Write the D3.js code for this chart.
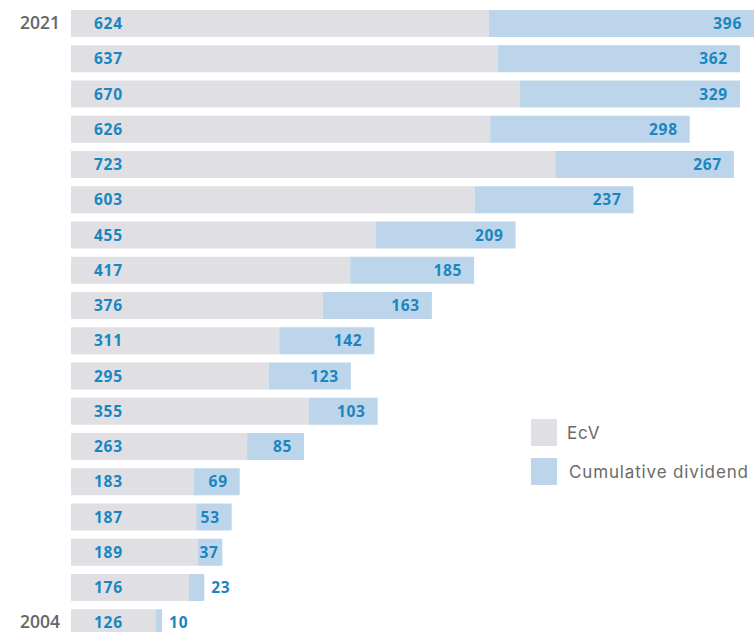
<!DOCTYPE html>
<html>
<head>
<meta charset="utf-8">
<script src="https://cdn.jsdelivr.net/npm/d3@7"></script>
<style>
  html, body { margin: 0; padding: 0; background: #fff; }
  svg { display: block; }
</style>
</head>
<body>
<svg id="chart" width="754" height="632"></svg>
<script>
// ---- data ----
const years = [2021, 2020, 2019, 2018, 2017, 2016, 2015, 2014, 2013, 2012, 2011, 2010, 2009, 2008, 2007, 2006, 2005, 2004];
const ecv = [624, 637, 670, 626, 723, 603, 455, 417, 376, 311, 295, 355, 263, 183, 187, 189, 176, 126];
const dividend = [396, 362, 329, 298, 267, 237, 209, 185, 163, 142, 123, 103, 85, 69, 53, 37, 23, 10];
const yearLabels = [2021, 2004];
const seriesNames = ["EcV", "Cumulative dividend"];

// ---- style ----
const grey = "#e0dfe3";
const blue = "#bdd5ea";
const numColor = "#1a86c0";
const numFont = "'Open Sans', sans-serif";

const svg = d3.select("#chart");
const x = d3.scaleLinear().domain([0, 1020]).range([71, 754]);
const y = d3.scaleBand().domain(years).range([10, 10 + 18 * 35.25]).padding(0);
const barH = 27;

const rows = years.map((yr, i) => ({ year: yr, ecv: ecv[i], div: dividend[i] }));

const g = svg.append("g");

// EcV bars
g.selectAll("rect.ecv").data(rows).join("rect")
  .attr("class", "ecv")
  .attr("x", x(0))
  .attr("y", d => y(d.year))
  .attr("width", d => x(d.ecv) - x(0))
  .attr("height", barH)
  .attr("fill", grey);

// dividend bars
g.selectAll("rect.div").data(rows).join("rect")
  .attr("class", "div")
  .attr("x", d => x(d.ecv))
  .attr("y", d => y(d.year))
  .attr("width", d => x(d.ecv + d.div) - x(d.ecv))
  .attr("height", barH)
  .attr("fill", blue);

// EcV labels
g.selectAll("text.ecvl").data(rows).join("text")
  .attr("class", "ecvl")
  .attr("x", x(0) + 23)
  .attr("y", d => y(d.year) + barH / 2)
  .attr("dy", "0.36em")
  .attr("fill", numColor)
  .attr("font-family", numFont)
  .attr("font-weight", 700)
  .attr("font-size", 15.5)
  .attr("letter-spacing", 0.7)
  .text(d => d.ecv);

// dividend labels
g.selectAll("text.divl").data(rows).join("text")
  .attr("class", "divl")
  .attr("y", d => y(d.year) + barH / 2)
  .attr("dy", "0.36em")
  .attr("fill", numColor)
  .attr("font-family", numFont)
  .attr("font-weight", 700)
  .attr("font-size", 15.5)
  .attr("letter-spacing", 0.7)
  .text(d => d.div)
  .each(function(d) {
    const w = this.getComputedTextLength();
    const end = x(d.ecv + d.div);
    let left;
    if (d.div < 30) {
      left = end + 7;
    } else {
      left = Math.max(end - 12 - w, x(d.ecv) + 2);
    }
    d3.select(this).attr("x", left);
  });

// year labels
g.selectAll("text.yr").data(yearLabels).join("text")
  .attr("class", "yr")
  .attr("x", 60)
  .attr("y", d => y(d) + barH / 2)
  .attr("dy", "0.3em")
  .attr("text-anchor", "end")
  .attr("fill", "#666666")
  .attr("font-family", numFont)
  .attr("font-weight", 600)
  .attr("font-size", 17.5)
  .text(d => d);

// legend
const legend = svg.append("g");
const legendColors = [grey, blue];
const legendY = [419, 458];
const legendTextX = [567, 569];
seriesNames.forEach((name, i) => {
  legend.append("rect")
    .attr("x", 531).attr("y", legendY[i])
    .attr("width", 26).attr("height", 27)
    .attr("fill", legendColors[i]);
  legend.append("text")
    .attr("x", legendTextX[i]).attr("y", legendY[i] + 13.5)
    .attr("dy", "0.36em")
    .attr("fill", "#6b6b6b")
    .attr("font-family", "Inter, sans-serif")
    .attr("font-size", 17)
    .attr("letter-spacing", 0.85)
    .text(name);
});
</script>
</body>
</html>
